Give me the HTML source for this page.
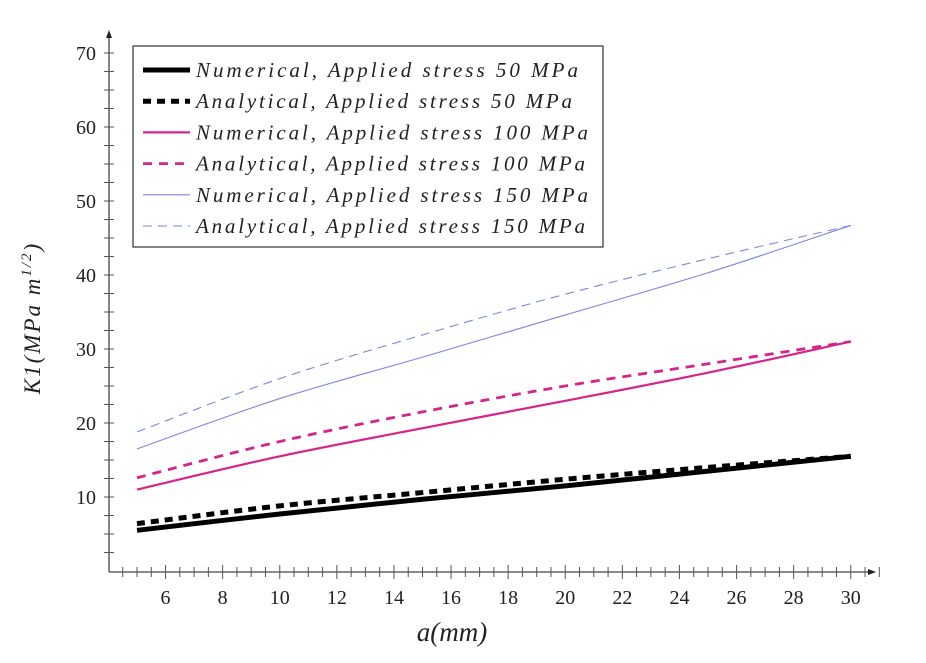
<!DOCTYPE html>
<html><head><meta charset="utf-8"><style>
body{margin:0;background:#fff}
svg text{font-family:"Liberation Serif",serif}
</style></head><body>
<svg id="chart" width="926" height="658" xmlns="http://www.w3.org/2000/svg">
<g id="axes"></g><g id="series"></g><g id="legend"></g>
</svg>
<script>
const aValues=[5,10,15,20,25,30];
const num50=[5.5,7.7,9.7,11.5,13.5,15.5];
const ana50=[6.4,8.8,10.6,12.4,14.0,15.5];
const num100=[11,15.5,19.3,23,26.8,31];
const ana100=[12.6,17.5,21.5,25.0,28.0,31];
const num150=[16.5,23.3,28.9,34.6,40.3,46.7];
const ana150=[18.8,26.0,31.9,37.4,42.2,46.7];
const xTicks=[6,8,10,12,14,16,18,20,22,24,26,28,30];
const yTicks=[10,20,30,40,50,60,70];
const legendLabels=["Numerical, Applied stress 50 MPa","Analytical, Applied stress 50 MPa","Numerical, Applied stress 100 MPa","Analytical, Applied stress 100 MPa","Numerical, Applied stress 150 MPa","Analytical, Applied stress 150 MPa"];
const legendWidths=[382,376,392,389,392,389];

const NS="http://www.w3.org/2000/svg";
const X=a=>137+(a-5)*28.55;
const Y=v=>571-v*7.4;
function mk(t,at,p){const e=document.createElementNS(NS,t);for(const k in at)e.setAttribute(k,at[k]);p.appendChild(e);return e;}
const axes=document.getElementById('axes');
const ax1=mk('line',{x1:109,y1:572,x2:870,y2:572,stroke:'#444','stroke-width':1.3},axes);


mk('path',{d:'M876 572 L868 569 L868 575 Z',fill:'#222'},axes);
const ax2=mk('line',{x1:109,y1:572,x2:109,y2:36,stroke:'#444','stroke-width':1.3},axes);


mk('path',{d:'M109 30 L106 38 L112 38 Z',fill:'#222'},axes);
for(let a=4.5;a<=31;a+=0.5){const major=xTicks.includes(a);mk('line',{x1:X(a),y1:567-(major?2:0),x2:X(a),y2:577+(major?2:0),stroke:'#555','stroke-width':1},axes);}
xTicks.forEach(t=>{const e=mk('text',{x:X(t),y:604,'text-anchor':'middle','font-size':20,fill:'#222'},axes);e.textContent=t;

});
for(let v=2.5;v<=72;v+=2.5){mk('line',{x1:104,y1:Y(v),x2:114,y2:Y(v),stroke:'#555','stroke-width':1},axes);}
yTicks.forEach(t=>{const e=mk('text',{x:96,y:Y(t)+7,'text-anchor':'end','font-size':20,fill:'#222'},axes);e.textContent=t;

});
const xl=mk('text',{x:452,y:641,'text-anchor':'middle','font-size':27,'font-style':'italic',fill:'#222'},axes);xl.textContent='a(mm)';


const yl=mk('text',{transform:'translate(40,318) rotate(-90)','text-anchor':'middle','font-size':23,'font-style':'italic',fill:'#222','letter-spacing':2},axes);
yl.innerHTML='K1(MPa m<tspan dy="-9" font-size="15">1/2</tspan><tspan dy="9">)</tspan>';



const styles=[
 {d:num50,stroke:'#000',w:5,dash:''},
 {d:ana50,stroke:'#000',w:5,dash:'8,6'},
 {d:num100,stroke:'#d6248a',w:2.2,dash:''},
 {d:ana100,stroke:'#d6248a',w:2.8,dash:'9,7'},
 {d:num150,stroke:'#7b86e0',w:1.1,dash:''},
 {d:ana150,stroke:'#7b86e0',w:1.1,dash:'9,6'}];
const names=['num-50','ana-50','num-100','ana-100','num-150','ana-150'];
function smooth(vals){const p=aValues.map((a,i)=>[X(a),Y(vals[i])]);let d='M'+p[0][0]+' '+p[0][1];
for(let i=0;i<p.length-1;i++){const p0=p[i-1]||p[i],p1=p[i],p2=p[i+1],p3=p[i+2]||p2;
d+=` C${p1[0]+(p2[0]-p0[0])/6} ${p1[1]+(p2[1]-p0[1])/6} ${p2[0]-(p3[0]-p1[0])/6} ${p2[1]-(p3[1]-p1[1])/6} ${p2[0]} ${p2[1]}`;}return d;}
const sg=document.getElementById('series');
styles.forEach((s,i)=>{const e=mk('path',{d:smooth(s.d),fill:'none',stroke:s.stroke,'stroke-width':s.w,'stroke-dasharray':s.dash},sg);

});

const lg=document.getElementById('legend');
const box=mk('rect',{x:133,y:46,width:470,height:201,fill:'#fff',stroke:'#333','stroke-width':1.2},lg);


legendLabels.forEach((l,i)=>{const y=70+i*31.2;const s=styles[i];
mk('line',{x1:143,y1:y,x2:190,y2:y,stroke:s.stroke,'stroke-width':s.w,'stroke-dasharray':s.dash},lg);
const t=mk('text',{x:196,y:y+7,'font-size':21,'font-style':'italic',fill:'#222',textLength:legendWidths[i],lengthAdjust:'spacing'},lg);t.textContent=l;

});
</script>
</body></html>
